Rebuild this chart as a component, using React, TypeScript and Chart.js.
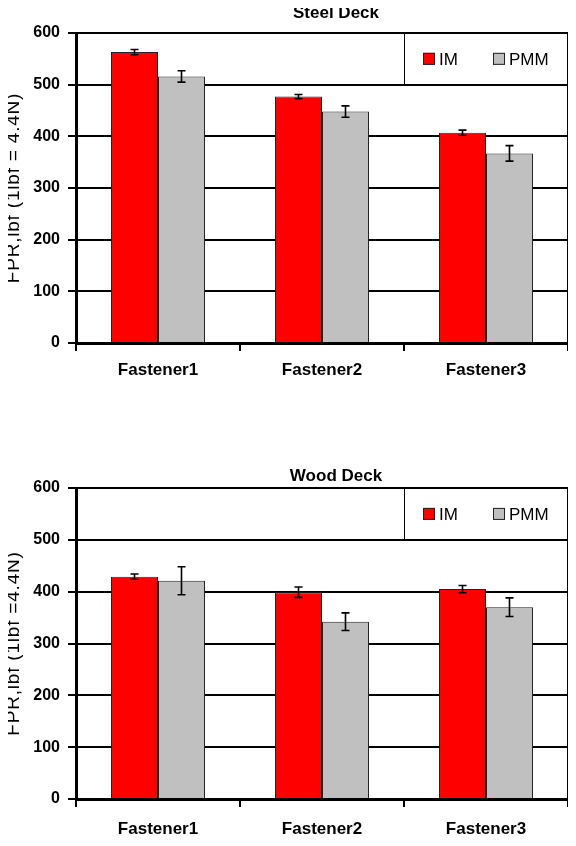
import React, { useEffect, useRef } from 'react';
import { Chart, registerables } from 'chart.js';

Chart.register(...registerables);

// ---- data ----
const categories = ['Fastener1', 'Fastener2', 'Fastener3'];
const seriesNames = ['IM', 'PMM'];
const seriesColors = ['#FF0000', '#C0C0C0'];
const yMin = 0;
const yMax = 600;
const yStep = 100;

const steelIM = [563, 477, 407];
const steelIMErr = [5, 4, 5];
const steelPMM = [516, 448, 367];
const steelPMMErr = [11, 11, 15];

const woodIM = [429, 399, 405];
const woodIMErr = [5, 10, 7];
const woodPMM = [421, 342, 370];
const woodPMMErr = [27, 17, 18];

const FONT = '"Liberation Sans", Arial, Helvetica, sans-serif';

type PanelProps = {
  title: string;
  yLabel: string;
  im: number[];
  imErr: number[];
  pmm: number[];
  pmmErr: number[];
  height: number;
  padTop: number;
  padBottom: number;
  xHeight: number;
  xPad: number;
  titleOffset: number;
};

function Panel(props: PanelProps) {
  const ref = useRef<HTMLCanvasElement | null>(null);

  useEffect(() => {
    const canvas = ref.current;
    if (!canvas) return;
    const errs = [props.imErr, props.pmmErr];

    const decorPlugin = {
      id: 'decor',
      beforeDatasetsDraw(chart: any) {
        const { ctx, chartArea } = chart;
        const x = chart.scales.x;
        const y = chart.scales.y;
        // legend box
        const left = (x.getPixelForValue(1) + x.getPixelForValue(2)) / 2;
        const right = chartArea.right;
        const top = y.getPixelForValue(yMax);
        const bottom = y.getPixelForValue(yMax - yStep);
        ctx.save();
        ctx.fillStyle = '#ffffff';
        ctx.fillRect(left, top + 1, right - left, bottom - top - 2);
        ctx.strokeStyle = '#000';
        ctx.lineWidth = 1;
        ctx.beginPath();
        ctx.moveTo(Math.round(left) + 0.5, top);
        ctx.lineTo(Math.round(left) + 0.5, bottom);
        ctx.stroke();
        const cy = (top + bottom) / 2;
        const offsets = [19, 89];
        ctx.font = `17px ${FONT}`;
        ctx.textBaseline = 'middle';
        ctx.textAlign = 'left';
        seriesNames.forEach((name, i) => {
          const sx = left + offsets[i];
          ctx.fillStyle = seriesColors[i];
          ctx.fillRect(sx, cy - 6, 12, 12);
          ctx.strokeStyle = '#222';
          ctx.lineWidth = 1;
          ctx.strokeRect(sx + 0.5, cy - 5.5, 11, 11);
          ctx.fillStyle = '#000';
          ctx.fillText(name, sx + 16, cy + 1);
        });
        ctx.restore();
      },
      afterDatasetsDraw(chart: any) {
        const { ctx } = chart;
        const y = chart.scales.y;
        ctx.save();
        ctx.strokeStyle = '#000';
        ctx.lineWidth = 1.6;
        chart.data.datasets.forEach((ds: any, i: number) => {
          const meta = chart.getDatasetMeta(i);
          meta.data.forEach((el: any, j: number) => {
            const v = ds.data[j];
            const e = errs[i][j];
            const yt = y.getPixelForValue(v + e);
            const yb = y.getPixelForValue(v - e);
            const cx = el.x;
            ctx.beginPath();
            ctx.moveTo(cx, yt);
            ctx.lineTo(cx, yb);
            ctx.moveTo(cx - 4, yt);
            ctx.lineTo(cx + 4, yt);
            ctx.moveTo(cx - 4, yb);
            ctx.lineTo(cx + 4, yb);
            ctx.stroke();
          });
        });
        ctx.restore();
      },
      afterDraw(chart: any) {
        const { ctx, chartArea } = chart;
        ctx.save();
        // right border
        ctx.strokeStyle = '#000';
        ctx.lineWidth = 2;
        ctx.beginPath();
        ctx.moveTo(chartArea.right, chartArea.top - 1);
        ctx.lineTo(chartArea.right, chartArea.bottom);
        ctx.stroke();
        // title
        ctx.fillStyle = '#000';
        ctx.font = `bold 17px ${FONT}`;
        ctx.textAlign = 'center';
        ctx.textBaseline = 'middle';
        ctx.fillText(props.title, (chartArea.left + chartArea.right) / 2 + 14, chartArea.top - props.titleOffset);
        // y label
        ctx.translate(14, (chartArea.top + chartArea.bottom) / 2);
        ctx.rotate(-Math.PI / 2);
        ctx.font = `19px ${FONT}`;
        (ctx as any).letterSpacing = '0.8px';
        ctx.fillText(props.yLabel, 0, 0);
        ctx.restore();
      },
    };

    const chart = new Chart(canvas, {
      type: 'bar',
      data: {
        labels: categories,
        datasets: [
          {
            label: seriesNames[0],
            data: props.im,
            backgroundColor: seriesColors[0],
            borderColor: '#222',
            borderWidth: 1,
          },
          {
            label: seriesNames[1],
            data: props.pmm,
            backgroundColor: seriesColors[1],
            borderColor: '#222',
            borderWidth: 1,
          },
        ],
      },
      options: {
        responsive: false,
        animation: false,
        devicePixelRatio: 1,
        layout: { padding: { top: props.padTop, bottom: props.padBottom, left: 0, right: 8 } },
        plugins: { legend: { display: false }, tooltip: { enabled: false }, title: { display: false } },
        datasets: { bar: { categoryPercentage: 0.573, barPercentage: 1.0 } },
        scales: {
          x: {
            afterFit: (s: any) => {
              s.height = props.xHeight;
            },
            grid: {
              display: true,
              drawOnChartArea: false,
              offset: true,
              color: '#000',
              lineWidth: 2,
              tickLength: 8,
            },
            border: { display: true, color: '#000', width: 3 },
            ticks: {
              color: '#000',
              font: { family: FONT, size: 17, weight: 'bold' },
              padding: props.xPad,
              maxRotation: 0,
            },
          },
          y: {
            min: yMin,
            max: yMax,
            afterFit: (s: any) => {
              s.width = 76;
            },
            grid: { color: '#000', lineWidth: 2, tickLength: 8 },
            border: { display: true, color: '#000', width: 3 },
            ticks: {
              stepSize: yStep,
              color: '#000',
              font: { family: FONT, size: 16, weight: 'bold' },
              padding: 8,
            },
          },
        },
      } as any,
      plugins: [decorPlugin],
    });
    return () => chart.destroy();
  }, []);

  return <canvas ref={ref} width={576} height={props.height} style={{ display: 'block' }} />;
}

export default function App() {
  return (
    <div style={{ width: 576, margin: '-8px 0 0 -8px' }}>
      <Panel
        title="Steel Deck"
        yLabel="FPR,lbf (1lbf = 4.4N)"
        im={steelIM}
        imErr={steelIMErr}
        pmm={steelPMM}
        pmmErr={steelPMMErr}
        height={408}
        padTop={33}
        padBottom={25}
        xHeight={40}
        xPad={9}
        titleOffset={19.5}
      />
      <Panel
        title="Wood Deck"
        yLabel="FPR,lbf (1lbf =4.4N)"
        im={woodIM}
        imErr={woodIMErr}
        pmm={woodPMM}
        pmmErr={woodPMMErr}
        height={438}
        padTop={80}
        padBottom={9}
        xHeight={38}
        xPad={12}
        titleOffset={12}
      />
    </div>
  );
}
